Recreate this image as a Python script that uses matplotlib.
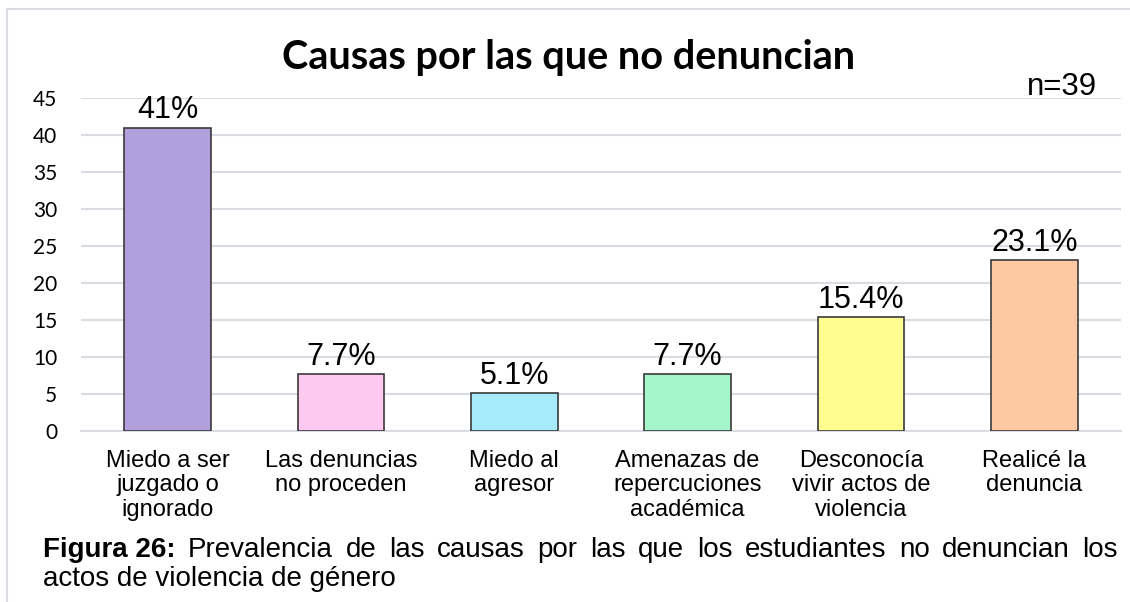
import matplotlib.pyplot as plt
from matplotlib.patches import Rectangle

# Data
categories = [
    "Miedo a ser\njuzgado o\nignorado", "Las denuncias\nno proceden", "Miedo al\nagresor",
    "Amenazas de\nrepercuciones\nacadémica", "Desconocía\nvivir actos de\nviolencia",
    "Realicé la\ndenuncia",
]
values = [41, 7.7, 5.1, 7.7, 15.4, 23.1]
value_labels = ["41%", "7.7%", "5.1%", "7.7%", "15.4%", "23.1%"]
colors = ["#B19FDC", "#FEC9F1", "#A7EAFB", "#A5F6CA", "#FFFC90", "#FDC9A2"]
yticks = [0, 5, 10, 15, 20, 25, 30, 35, 40, 45]

W, H = 1130, 602
fig = plt.figure(figsize=(W / 100, H / 100), dpi=100)
ax = fig.add_axes([81 / W, 1 - 431 / H, 1040 / W, 333 / H])

x = range(len(categories))
bars = ax.bar(x, values, width=0.5, color=colors, edgecolor="#3a3a3a", linewidth=1.2, zorder=3)

for b, lab in zip(bars, value_labels):
    ax.text(b.get_x() + b.get_width() / 2, b.get_height() + 0.3, lab,
            ha="center", va="bottom", fontsize=22, family="Liberation Sans", zorder=4)

ax.set_xlim(-0.5, len(categories) - 0.5)
ax.set_ylim(0, 45)
ax.set_yticks(yticks)
ax.set_xticks(list(x))
ax.set_xticklabels(categories, fontsize=17, family="Liberation Sans", linespacing=1.12)
ax.tick_params(axis="x", length=0, pad=14)
ax.tick_params(axis="y", length=0, pad=17, labelsize=15)
for t in ax.get_yticklabels():
    t.set_family("Lato")

ax.grid(axis="y", color="#D9DDE3", linewidth=1.5, zorder=0)
for s in ["top", "right", "left"]:
    ax.spines[s].set_visible(False)
ax.spines["bottom"].set_color("#D9DDE3")
ax.spines["bottom"].set_linewidth(1.5)

fig.text(569 / W, 1 - 69 / H, "Causas por las que no denuncian", ha="center", va="baseline",
         fontsize=28.5, fontweight="bold", family="Lato")
fig.text(1097 / W, 1 - 95 / H, "n=39", ha="right", va="baseline", fontsize=22.5, family="Liberation Sans")

# outer frame
fig.patches.append(Rectangle((7 / W, -0.1), 1.2, 1 - 9 / H + 0.1, transform=fig.transFigure,
                             fill=False, edgecolor="#D9DDE3", linewidth=1.5))

# caption, first line justified between x=43 and x=1118
cap_size = 20
y1 = 1 - 557 / H
y2 = 1 - 586 / H
fig.canvas.draw()
r = fig.canvas.get_renderer()
bold = fig.text(43 / W, y1, "Figura 26:", fontsize=cap_size, family="Liberation Sans",
                fontweight="bold", va="baseline")
words = "Prevalencia de las causas por las que los estudiantes no denuncian los".split()
wtexts = [fig.text(0, y1, w, fontsize=cap_size, family="Liberation Sans", va="baseline") for w in words]
widths = [t.get_window_extent(r).width for t in [bold] + wtexts]
gap = (1118 - 43 - sum(widths)) / len(words)
pos = 43 + widths[0] + gap
for t, w in zip(wtexts, widths[1:]):
    t.set_x(pos / W)
    pos += w + gap
fig.text(43 / W, y2, "actos de violencia de género", fontsize=cap_size, family="Liberation Sans", va="baseline")

fig.savefig("out.png", dpi=100)
